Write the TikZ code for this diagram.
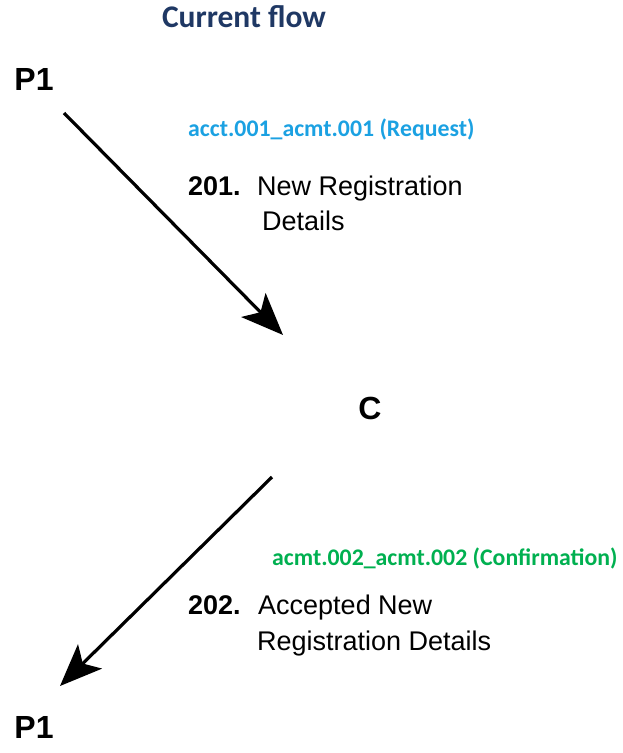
\documentclass[tikz,border=0pt]{standalone}
\usepackage{fontspec}
\setmainfont{Liberation Sans}
\newfontfamily\calib{Carlito}
\usetikzlibrary{arrows.meta}
\definecolor{titleblue}{RGB}{31,56,100}
\definecolor{reqblue}{RGB}{27,161,226}
\definecolor{confgreen}{RGB}{0,176,80}
\tikzset{
  party/.style={font=\fontsize{32}{36}\selectfont\bfseries, inner sep=0pt},
  msglabel/.style={font=\calib\fontsize{23.8}{27}\selectfont\bfseries, inner sep=0pt, anchor=base west},
  msgnum/.style={font=\fontsize{27}{31}\selectfont\bfseries, inner sep=0pt, anchor=base west},
  msgtext/.style={font=\fontsize{27}{31}\selectfont, inner sep=0pt, anchor=base west},
  flow/.style={line width=3.2pt, -{Stealth[length=42pt, width=34pt, inset=10pt]}}
}
\begin{document}
\begin{tikzpicture}[x=1pt, y=-1pt]
\useasboundingbox (0,0) rectangle (623,753);
\node[font=\calib\fontsize{31.5}{35}\selectfont\bfseries, text=titleblue, inner sep=0pt] (title) at (244,17) {Current flow};
\node[party] (p1top) at (34,79) {P1};
\node[party] (c) at (370,408) {C};
\node[party] (p1bot) at (34,727) {P1};
\coordinate (s1) at (64,113);
\coordinate (e1) at (283,335);
\coordinate (s2) at (272,477);
\coordinate (e2) at (60,686);
\draw[flow] (s1) -- (e1);
\draw[flow] (s2) -- (e2);
\node[msglabel, text=reqblue] (req) at (188,136) {acct.001\_acmt.001 (Request)};
\node[msgnum] (n201) at (188,195) {201.};
\node[msgtext] (t201a) at (257,195) {New Registration};
\node[msgtext] (t201b) at (262,230) {Details};
\node[msglabel, text=confgreen] (conf) at (272,565) {acmt.002\_acmt.002 (Confirmation)};
\node[msgnum] (n202) at (188,614) {202.};
\node[msgtext] (t202a) at (258,614) {Accepted New};
\node[msgtext] (t202b) at (257,650) {Registration Details};
\end{tikzpicture}
\end{document}
